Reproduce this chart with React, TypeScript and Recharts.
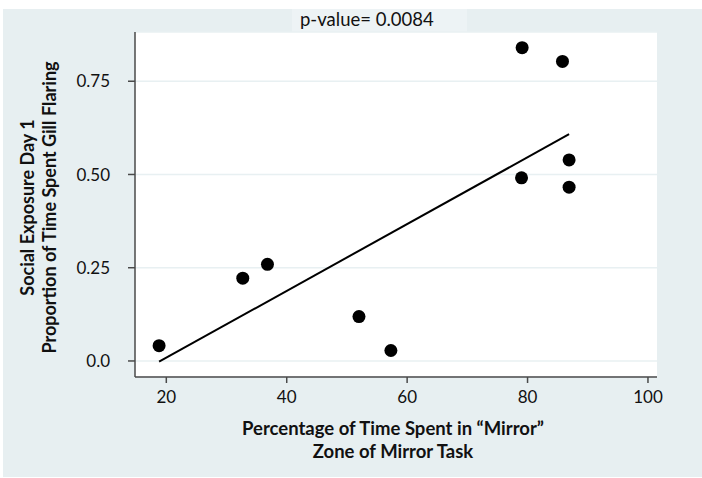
import React from 'react';
import { ScatterChart, Scatter, XAxis, YAxis, CartesianGrid, Label } from 'recharts';

// percentage of time in the "mirror" zone
const mirrorPct = [18.8, 32.7, 36.8, 52.0, 57.3, 79.1, 85.8, 86.9, 79.0, 86.9];
// proportion of time spent gill flaring (social exposure day 1)
const gillFlaring = [0.041, 0.222, 0.259, 0.119, 0.028, 0.840, 0.803, 0.539, 0.491, 0.466];

// fitted line end points
const fitX = [18.8, 86.9];
const fitY = [-0.002, 0.608];

const xTicks = [20, 40, 60, 80, 100];
const yTicks = [0, 0.25, 0.5, 0.75];

const points = mirrorPct.map((x, i) => ({ x, y: gillFlaring[i] }));
const fitLine = fitX.map((x, i) => ({ x, y: fitY[i] }));

const FONT = 'Lato, "Open Sans", sans-serif';
const AXIS = '#4a4a4a';

const YTitle = ({ viewBox }: any) => {
  const cx = 39;
  const cy = viewBox.y + viewBox.height / 2 + 3;
  return (
    <text
      x={cx}
      y={cy}
      transform={`rotate(-90 ${cx} ${cy})`}
      textAnchor="middle"
      fontFamily={FONT}
      fontWeight="bold"
      fontSize={18}
      fill="#111"
    >
      <tspan x={cx} dy={-5}>Social Exposure Day 1</tspan>
      <tspan x={cx} dy={22}>Proportion of Time Spent Gill Flaring</tspan>
    </text>
  );
};

const XTitle = ({ viewBox }: any) => {
  const cx = viewBox.x + viewBox.width / 2 - 3;
  return (
    <text textAnchor="middle" fontFamily={FONT} fontWeight="bold" fontSize={18.5} fill="#111">
      <tspan x={cx} y={435}>Percentage of Time Spent in “Mirror”</tspan>
      <tspan x={cx} y={458}>Zone of Mirror Task</tspan>
    </text>
  );
};

export default function App() {
  return (
    <div style={{ position: 'absolute', left: 0, top: 0, width: 702, height: 478, background: '#fff', fontFamily: FONT }}>
      <div style={{ position: 'absolute', left: 3, top: 9, width: 699, height: 468, background: '#e7eff1' }} />
      <div
        style={{
          position: 'absolute',
          left: 292,
          top: 9,
          width: 175,
          height: 23,
          background: '#edf3f5',
          fontSize: 18.5,
          color: '#111',
          lineHeight: '20px',
          paddingLeft: 8,
          boxSizing: 'border-box',
          whiteSpace: 'nowrap',
        }}
      >
        p-value= 0.0084
      </div>
      <div style={{ position: 'absolute', left: 0, top: 0 }}>
        <ScatterChart width={702} height={478} margin={{ top: 32, right: 45, bottom: 71, left: 75 }}>
          <CartesianGrid vertical={false} horizontal stroke="#e8f0f2" strokeWidth={1.5} fill="#ffffff" />
          <XAxis
            type="number"
            dataKey="x"
            domain={[14.8, 101.5]}
            ticks={xTicks}
            height={30}
            axisLine={{ stroke: AXIS, strokeWidth: 1.5 }}
            tickLine={{ stroke: AXIS, strokeWidth: 1.5 }}
            tickSize={6}
            tickMargin={8}
            tick={{ fill: '#111', fontSize: 17, fontFamily: FONT }}
            allowDataOverflow
          >
            <Label content={<XTitle />} />
          </XAxis>
          <YAxis
            type="number"
            dataKey="y"
            domain={[-0.043, 0.882]}
            ticks={yTicks}
            width={60}
            axisLine={{ stroke: AXIS, strokeWidth: 1.5 }}
            tickLine={{ stroke: AXIS, strokeWidth: 1.5 }}
            tickSize={7}
            tickMargin={18}
            tick={{ fill: '#111', fontSize: 17, fontFamily: FONT }}
            tickFormatter={(v: number) => (v === 0 ? '0.0' : v.toFixed(2))}
            allowDataOverflow
          >
            <Label content={<YTitle />} />
          </YAxis>
          <Scatter
            data={fitLine}
            line={{ stroke: '#000', strokeWidth: 2 }}
            shape={() => null}
            isAnimationActive={false}
          />
          <Scatter data={points} fill="#000" isAnimationActive={false} shape={(p: any) => <circle cx={p.cx} cy={p.cy} r={6.5} fill="#000" />} />
        </ScatterChart>
      </div>
    </div>
  );
}
